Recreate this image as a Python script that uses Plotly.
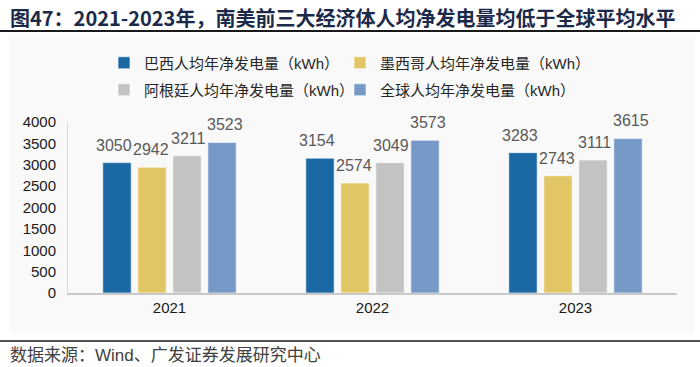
import plotly.graph_objects as go

W, H = 700, 367

years = ["2021", "2022", "2023"]
series_names = [
    "巴西人均年净发电量（kWh）",
    "墨西哥人均年净发电量（kWh）",
    "阿根廷人均年净发电量（kWh）",
    "全球人均年净发电量（kWh）",
]
brazil = [3050, 3154, 3283]
mexico = [2942, 2574, 2743]
argentina = [3211, 3049, 3111]
world = [3523, 3573, 3615]
series_values = [brazil, mexico, argentina, world]
colors = ["#1b69a4", "#e2c665", "#c3c3c3", "#7699c7"]
legend_ids = ["legend", "legend2", "legend3", "legend4"]

ytick_vals = [0, 500, 1000, 1500, 2000, 2500, 3000, 3500, 4000]

title_text = "图47：2021-2023年，南美前三大经济体人均净发电量均低于全球平均水平"
source_text = "数据来源：Wind、广发证券发展研究中心"

FONT = "Liberation Sans, Arial, Noto Sans CJK SC, sans-serif"

# plot area in pixels
L, R, T, B = 68, 677, 122, 293


def px_x(x):
    return (x - L) / (R - L)


def px_y(y):
    return (B - y) / (B - T)


fig = go.Figure()
for name, vals, c, lg in zip(series_names, series_values, colors, legend_ids):
    fig.add_trace(go.Bar(
        x=years, y=vals, name=name, legend=lg,
        marker=dict(color=c, line=dict(color="rgba(255,255,255,0.6)", width=1)),
    ))

# value labels (category axis: annotation x given as category index)
bar_step = 37
for i, vals in enumerate(series_values):
    for k, v in enumerate(vals):
        fig.add_annotation(
            x=k, y=v, xref="x", yref="y", text=str(v), showarrow=False,
            xshift=(i - 1.5) * bar_step, yshift=7, yanchor="bottom",
            font=dict(family=FONT, size=16, color="#595959"),
        )

# title
fig.add_annotation(
    xref="paper", yref="paper", x=px_x(8), y=px_y(17), xanchor="left", yanchor="middle",
    text="<b>" + title_text + "</b>", showarrow=False,
    font=dict(family="Noto Sans CJK SC, Liberation Sans, sans-serif", size=20, color="#1c2a4a"),
)
# source
fig.add_annotation(
    xref="paper", yref="paper", x=px_x(8), y=px_y(355), xanchor="left", yanchor="middle",
    text=source_text, showarrow=False,
    font=dict(family=FONT, size=17, color="#404040"),
)

shapes = [
    dict(type="rect", xref="paper", yref="paper", x0=px_x(10), x1=px_x(695),
         y0=px_y(333), y1=px_y(37), fillcolor="#f9f9f9", line=dict(width=0), layer="below"),
    dict(type="line", xref="paper", yref="paper", x0=px_x(0), x1=px_x(700),
         y0=px_y(31), y1=px_y(31), line=dict(color="#1a1a1a", width=2)),
    dict(type="line", xref="paper", yref="paper", x0=px_x(0), x1=px_x(700),
         y0=px_y(341), y1=px_y(341), line=dict(color="#1a1a1a", width=1.5)),
]

legend_common = dict(
    orientation="h", xanchor="left", yanchor="middle",
    font=dict(family=FONT, size=15, color="#262626"),
    bgcolor="rgba(0,0,0,0)", itemwidth=30,
)
legend_pos = {
    "legend": (104, 63),
    "legend2": (340, 63),
    "legend3": (104, 90),
    "legend4": (340, 90),
}
legend_layout = {
    k: dict(x=px_x(px), y=px_y(py), **legend_common) for k, (px, py) in legend_pos.items()
}

fig.update_layout(
    width=W, height=H,
    margin=dict(l=L, r=W - R, t=T, b=H - B, pad=0, autoexpand=False),
    paper_bgcolor="white", plot_bgcolor="rgba(0,0,0,0)",
    barmode="group", bargap=0.31, bargroupgap=0.19,
    showlegend=True,
    **legend_layout,
    xaxis=dict(
        type="category", range=[-0.5, 2.5], autorange=False,
        showline=True, linecolor="#c8c8c8", linewidth=2, ticks="",
        tickfont=dict(family=FONT, size=15, color="#1a1a1a"),
        showgrid=False, zeroline=False,
    ),
    yaxis=dict(
        range=[0, 4000], autorange=False, tickvals=ytick_vals, showline=True,
        linecolor="#d9d9d9", linewidth=1,
        ticks="", showgrid=False, zeroline=False,
        tickfont=dict(family=FONT, size=15, color="#1a1a1a"), ticklabelstandoff=8,
    ),
    shapes=shapes,
    font=dict(family=FONT),
)

fig.write_html(
    "out.html",
    config=dict(displayModeBar=False),
    post_script="document.body.style.margin='0';document.body.style.overflow='hidden';",
)
